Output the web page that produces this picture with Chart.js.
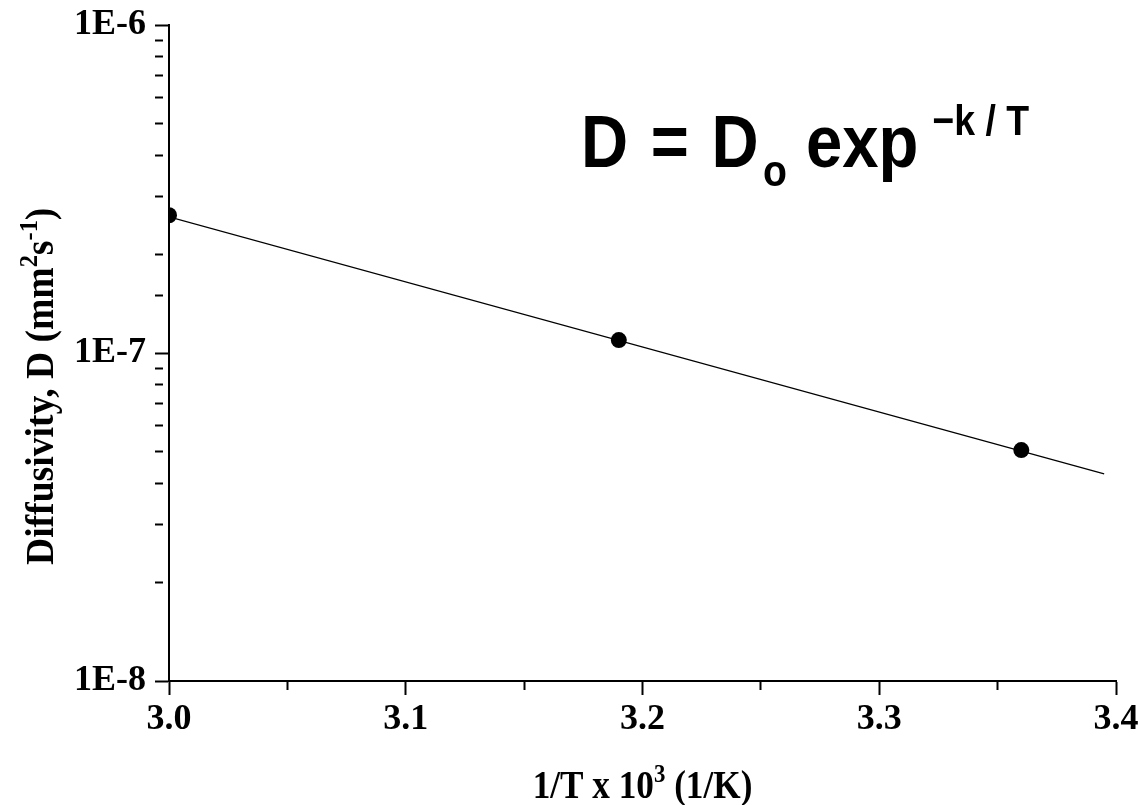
<!DOCTYPE html>
<html>
<head>
<meta charset="utf-8">
<script src="https://cdn.jsdelivr.net/npm/chart.js@4.4.1/dist/chart.umd.min.js"></script>
<style>
  body { margin: 0; background: #fff; }
  #wrap { width: 1138px; height: 805px; position: relative; }
</style>
</head>
<body>
<div id="wrap"><canvas id="chart"></canvas></div>
<script>
// Datos medidos (1/T x 10^3, difusividad en mm2/s)
const invTemp = [3.0, 3.19, 3.36];
const diffusivity = [2.63e-7, 1.095e-7, 5.06e-8];

// Recta de ajuste (extremos)
const fitX = [3.0, 3.395];
const fitY = [2.6e-7, 4.28e-8];

// Ejes
const xMin = 3.0, xMax = 3.4, xStep = 0.05;
const yMin = 1e-8, yMax = 1e-6;

const serif = "'Liberation Serif', 'Times New Roman', serif";
const sans = "'Liberation Sans', Arial, sans-serif";

function isDecade(v) {
    const l = Math.log10(v);
    return Math.abs(l - Math.round(l)) < 1e-6;
}
function isTenth(v) {
    return Math.abs(v * 10 - Math.round(v * 10)) < 1e-6;
}

// Dibuja texto con sub/superíndices, devuelve el ancho
function drawRuns(ctx, runs, x, y) {
    let cx = x;
    runs.forEach(r => {
        ctx.font = r.font;
        ctx.fillText(r.text, cx, y + (r.dy || 0));
        cx += ctx.measureText(r.text).width + (r.gap || 0);
    });
    return cx - x;
}

const textPlugin = {
    id: 'textPlugin',
    afterDraw(chart) {
        const ctx = chart.ctx;
        const area = chart.chartArea;
        ctx.save();
        ctx.fillStyle = '#000';
        ctx.textBaseline = 'alphabetic';
        ctx.textAlign = 'left';

        // Fórmula
        ctx.save();
        ctx.translate(581, 167);
        ctx.scale(0.87, 1);
        const big = 'bold 75px ' + sans;
        drawRuns(ctx, [
            { text: 'D', font: big, gap: 26 },
            { text: '=', font: big, gap: 26 },
            { text: 'D', font: big, gap: 5 },
            { text: 'o', font: 'bold 45px ' + sans, dy: 19, gap: 22 },
            { text: 'exp', font: big, gap: 16 },
            { text: '\u2212k / T', font: 'bold 43px ' + sans, dy: -32 }
        ], 0, 0);
        ctx.restore();

        const tf = 'bold 40px ' + serif;
        const sf = 'bold 26px ' + serif;

        // Título eje Y
        ctx.save();
        ctx.translate(53, 565);
        ctx.rotate(-Math.PI / 2);
        ctx.scale(0.94, 1);
        drawRuns(ctx, [
            { text: 'Diffusivity, D (mm', font: tf },
            { text: '2', font: sf, dy: -16 },
            { text: 's', font: tf },
            { text: '-1', font: sf, dy: -16 },
            { text: ')', font: tf }
        ], 0, 0);
        ctx.restore();

        // Título eje X
        ctx.save();
        const xRuns = [
            { text: '1/T x 10', font: tf },
            { text: '3', font: sf, dy: -16 },
            { text: ' (1/K)', font: tf }
        ];
        let w = 0;
        xRuns.forEach(r => { ctx.font = r.font; w += ctx.measureText(r.text).width; });
        const cxm = (area.left + area.right) / 2;
        ctx.translate(cxm, 798);
        ctx.scale(0.88, 1);
        drawRuns(ctx, xRuns, -w / 2, 0);
        ctx.restore();

        ctx.restore();
    }
};

const tickFont = { family: serif, size: 36, weight: 'bold' };

new Chart(document.getElementById('chart'), {
    type: 'scatter',
    data: {
        datasets: [
            {
                label: 'Ajuste',
                data: fitX.map((x, i) => ({ x: x, y: fitY[i] })),
                showLine: true,
                borderColor: '#000',
                borderWidth: 1.2,
                pointRadius: 0,
                fill: false
            },
            {
                label: 'Datos',
                data: invTemp.map((x, i) => ({ x: x, y: diffusivity[i] })),
                showLine: false,
                pointRadius: 8,
                pointBackgroundColor: '#000',
                pointBorderColor: '#000',
                pointBorderWidth: 0
            }
        ]
    },
    options: {
        responsive: true,
        maintainAspectRatio: false,
        animation: false,
        layout: { padding: { top: 25, right: 22, left: 0, bottom: 0 } },
        plugins: {
            legend: { display: false },
            tooltip: { enabled: false }
        },
        scales: {
            x: {
                type: 'linear',
                min: xMin,
                max: xMax,
                afterFit: s => { s.height = 124; s.paddingLeft = 0; s.paddingRight = 0; },
                border: { color: '#000', width: 2 },
                grid: {
                    drawOnChartArea: false,
                    tickLength: 14,
                    tickWidth: 2,
                    tickColor: '#000',
                    tickBorderDash: c => (c.tick && isTenth(c.tick.value)) ? [] : [8, 40]
                },
                ticks: {
                    stepSize: xStep,
                    autoSkip: false,
                    maxRotation: 0,
                    padding: 3,
                    color: '#000',
                    font: tickFont,
                    callback: v => isTenth(v) ? v.toFixed(1) : ''
                }
            },
            y: {
                type: 'logarithmic',
                min: yMin,
                max: yMax,
                afterFit: s => { s.width = 169; s.paddingTop = 0; s.paddingBottom = 0; },
                border: { color: '#000', width: 2 },
                grid: {
                    drawOnChartArea: false,
                    tickLength: 14,
                    tickWidth: 2,
                    tickColor: '#000',
                    tickBorderDash: c => (c.tick && isDecade(c.tick.value)) ? [] : [8, 40]
                },
                ticks: {
                    autoSkip: false,
                    padding: 9,
                    color: '#000',
                    font: tickFont,
                    callback: v => isDecade(v) ? '1E' + Math.round(Math.log10(v)) : ''
                }
            }
        }
    },
    plugins: [textPlugin]
});
</script>
</body>
</html>
